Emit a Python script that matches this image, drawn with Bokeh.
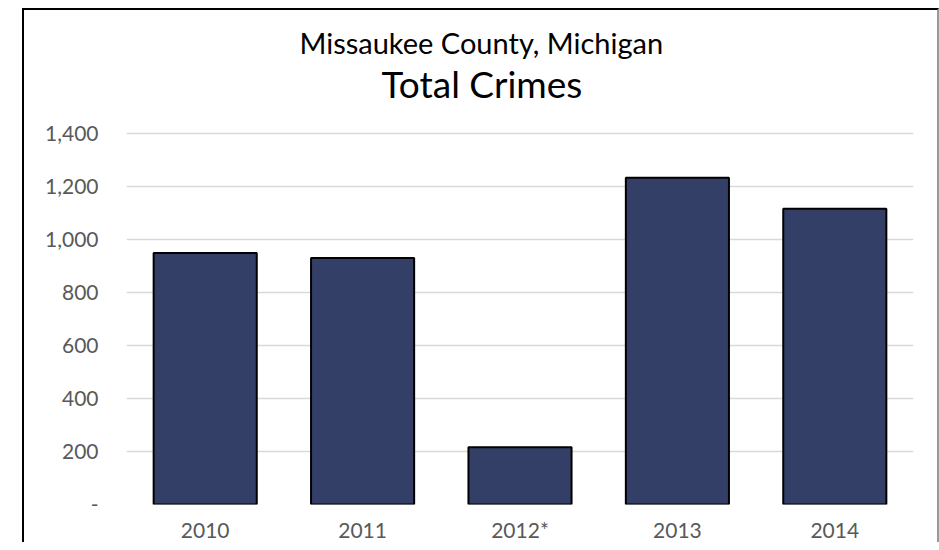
from bokeh.plotting import figure
from bokeh.models import Range1d, FixedTicker, Title, CustomJSTickFormatter
from bokeh.embed import file_html
from bokeh.resources import INLINE

categories = ["2010", "2011", "2012*", "2013", "2014"]
values = [949, 930, 216, 1233, 1116]
y_ticks = [0, 200, 400, 600, 800, 1000, 1200, 1400]

FONT = "Lato"

p = figure(
    x_range=categories,
    y_range=Range1d(0, 1506),
    width=917, height=534,
    output_backend="svg",
    toolbar_location=None,
    min_border_left=102, min_border_right=28,
    min_border_top=95, min_border_bottom=40,
    title="Missaukee County, Michigan",
)
p.margin = (8, 0, 0, 22)
p.styles = {"border-top": "2px solid black", "border-left": "2px solid black",
            "border-right": "2px solid #999999"}

p.title.align = "left"
p.title.offset = 173
p.title.text_font = FONT
p.title.text_font_size = "29px"
p.title.text_font_style = "normal"
p.title.text_color = "#000000"
p.title.standoff = -3

main = Title(text="Total Crimes", align="left", offset=255,
             text_font=FONT, text_font_size="37px", text_font_style="normal",
             text_color="#000000", standoff=0)
p.add_layout(main, "above")

p.vbar(x=categories, top=values, width=0.655,
       fill_color="#343F68", line_color="#000000", line_width=2)

p.outline_line_color = None
p.background_fill_color = "white"
p.border_fill_color = "white"

p.xgrid.grid_line_color = None
p.ygrid.grid_line_color = "#D9D9D9"
p.ygrid.grid_line_width = 1.5

p.yaxis.ticker = FixedTicker(ticks=y_ticks)
p.yaxis.formatter = CustomJSTickFormatter(code="""
    if (tick == 0) { return '-'; }
    return tick.toLocaleString('en-US');
""")

for ax in (p.xaxis[0], p.yaxis[0]):
    ax.axis_line_color = None
    ax.major_tick_line_color = None
    ax.minor_tick_line_color = None
    ax.major_label_text_font = FONT
    ax.major_label_text_font_size = "21px"
    ax.major_label_text_color = "#595959"

p.yaxis.major_label_standoff = 22
p.xaxis.major_label_standoff = 6

open("out.html", "w").write(file_html(p, INLINE))
